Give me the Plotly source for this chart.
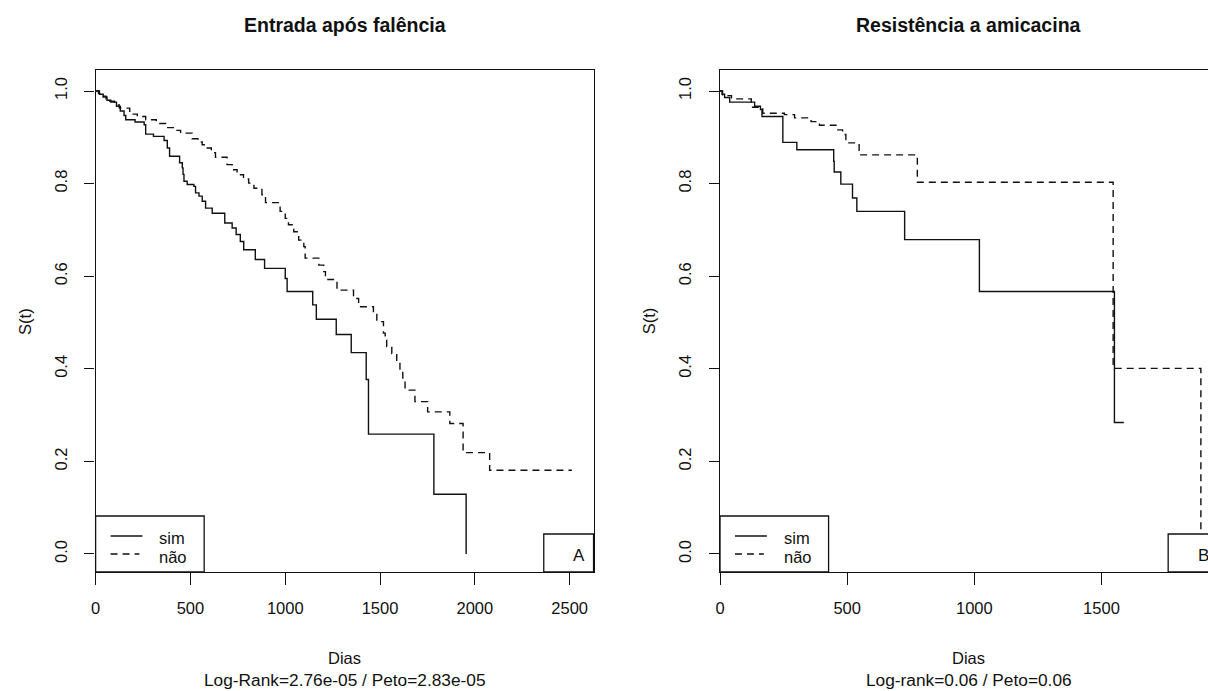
import plotly.graph_objects as go

W, H = 1208, 691

# ---------------- data ----------------
titles = ["Entrada após falência", "Resistência a amicacina"]
subtitles = ["Log-Rank=2.76e-05 / Peto=2.83e-05", "Log-rank=0.06 / Peto=0.06"]
panel_tags = ["A", "B"]
group_names = ["sim", "não"]
y_ticks = [0.0, 0.2, 0.4, 0.6, 0.8, 1.0]
y_ticktext = ["0.0", "0.2", "0.4", "0.6", "0.8", "1.0"]
x_ticks_left = [0, 500, 1000, 1500, 2000, 2500]
x_ticks_right = [0, 500, 1000, 1500]

# Panel A - "sim" (solid)
a_sim_t = [0, 20, 40, 60, 80, 110, 130, 150, 159, 208, 256, 264, 305, 361, 378, 390,
           443, 457, 461, 466, 483, 518, 527, 545, 562, 580, 615, 681, 720, 741, 763,
           781, 842, 891, 1000, 1010, 1145, 1164, 1269, 1348, 1427, 1439, 1784, 1954]
a_sim_s = [1.0, 0.993, 0.987, 0.980, 0.976, 0.967, 0.957, 0.947, 0.938, 0.933, 0.927,
           0.907, 0.902, 0.893, 0.877, 0.859, 0.845, 0.834, 0.820, 0.805, 0.798, 0.794,
           0.780, 0.773, 0.762, 0.747, 0.736, 0.715, 0.704, 0.690, 0.675, 0.657, 0.636,
           0.617, 0.595, 0.567, 0.538, 0.507, 0.474, 0.435, 0.377, 0.259, 0.129, 0.0]

# Panel A - "não" (dashed)
a_nao_t = [0, 15, 35, 55, 75, 100, 125, 180, 220, 264, 320, 369, 410, 448, 509, 540,
           562, 588, 610, 632, 693, 720, 746, 780, 807, 835, 877, 896, 973, 1000, 1017,
           1045, 1071, 1098, 1105, 1177, 1203, 1212, 1273, 1360, 1387, 1465, 1483, 1518,
           1527, 1535, 1562, 1588, 1605, 1620, 1632, 1684, 1751, 1868, 1938, 2078, 2512]
a_nao_s = [1.0, 0.995, 0.989, 0.983, 0.978, 0.970, 0.963, 0.950, 0.945, 0.938, 0.930,
           0.921, 0.915, 0.909, 0.897, 0.890, 0.884, 0.877, 0.867, 0.857, 0.841, 0.830,
           0.819, 0.810, 0.801, 0.790, 0.776, 0.759, 0.740, 0.725, 0.711, 0.696, 0.678,
           0.664, 0.639, 0.624, 0.610, 0.593, 0.570, 0.552, 0.534, 0.520, 0.502, 0.477,
           0.462, 0.448, 0.433, 0.415, 0.397, 0.376, 0.354, 0.329, 0.307, 0.282, 0.219,
           0.181, 0.181]

# Panel B - "sim" (solid)
b_sim_t = [0, 8, 18, 38, 136, 159, 165, 247, 302, 447, 449, 475, 521, 538, 726, 1020, 1551, 1588]
b_sim_s = [1.0, 0.993, 0.986, 0.976, 0.967, 0.960, 0.945, 0.889, 0.873, 0.848, 0.825,
           0.799, 0.769, 0.740, 0.679, 0.567, 0.284, 0.284]

# Panel B - "não" (dashed)
b_nao_t = [0, 10, 45, 123, 128, 168, 253, 293, 358, 391, 456, 482, 495, 547, 776, 1546, 1891]
b_nao_s = [1.0, 0.990, 0.983, 0.976, 0.965, 0.952, 0.949, 0.942, 0.934, 0.926, 0.916,
           0.906, 0.888, 0.862, 0.803, 0.401, 0.0]

# ---------------- styling helpers ----------------
FONT = "Liberation Sans, Arial, sans-serif"
INK = "#111111"
LW = 1.4
DASH = "7px,5px"


def px(x):
    return x / W


def py(y):
    return 1 - y / H


fig = go.Figure()

series = [
    (a_sim_t, a_sim_s, "solid", "x", "y", group_names[0]),
    (a_nao_t, a_nao_s, DASH, "x", "y", group_names[1]),
    (b_sim_t, b_sim_s, "solid", "x2", "y2", group_names[0]),
    (b_nao_t, b_nao_s, DASH, "x2", "y2", group_names[1]),
]
for t, s, dash, xa, ya, nm in series:
    fig.add_trace(go.Scatter(
        x=t, y=s, mode="lines", name=nm, showlegend=False,
        line=dict(shape="hv", color=INK, width=LW, dash=dash),
        xaxis=xa, yaxis=ya, hoverinfo="x+y",
    ))

ydom = [py(572), py(70)]
yrange = [-0.0389, 1.0454]

common_axis = dict(
    showgrid=False, zeroline=False, showline=True, linecolor=INK, linewidth=1.3,
    ticks="outside", tickcolor=INK, tickwidth=1.3,
    tickfont=dict(family=FONT, size=16.5, color=INK),
)

fig.update_layout(
    width=W, height=H,
    margin=dict(l=0, r=0, t=0, b=0),
    paper_bgcolor="white", plot_bgcolor="white",
    showlegend=False,
    xaxis=dict(domain=[px(91), px(591)], range=[0, 2626], tickvals=x_ticks_left,
               ticklen=12, mirror=True, anchor="y", ticklabelstandoff=9, **common_axis),
    yaxis=dict(domain=ydom, range=yrange, tickvals=y_ticks, ticktext=y_ticktext,
               tickangle=-90, ticklen=10, mirror=True, anchor="x",
               ticklabelstandoff=11, **common_axis),
    xaxis2=dict(domain=[px(718), 1.0], range=[0, 1919], tickvals=x_ticks_right,
                ticklen=12, mirror=True, anchor="y2", ticklabelstandoff=9, **common_axis),
    yaxis2=dict(domain=ydom, range=yrange, tickvals=y_ticks, ticktext=y_ticktext,
                tickangle=-90, ticklen=10, mirror=False, anchor="x2",
                ticklabelstandoff=11, **common_axis),
)

shapes = []
annotations = []

panels = [
    dict(x0=91, x1=591),
    dict(x0=718, x1=1218),
]
for i, p in enumerate(panels):
    cx = (p["x0"] + p["x1"]) / 2
    # title
    annotations.append(dict(text="<b>" + titles[i] + "</b>", x=px(cx), y=py(25),
                            xref="paper", yref="paper", showarrow=False,
                            xanchor="center", yanchor="middle",
                            font=dict(family=FONT, size=19.5, color=INK)))
    # x title and subtitle
    annotations.append(dict(text="Dias", x=px(cx), y=py(658), xref="paper", yref="paper",
                            showarrow=False, xanchor="center", yanchor="middle",
                            font=dict(family=FONT, size=16.5, color=INK)))
    annotations.append(dict(text=subtitles[i], x=px(cx), y=py(680), xref="paper",
                            yref="paper", showarrow=False, xanchor="center",
                            yanchor="middle", font=dict(family=FONT, size=17.3, color=INK)))
    # y title
    annotations.append(dict(text="S(t)", x=px(p["x0"] - 71), y=py(321), xref="paper",
                            yref="paper", showarrow=False, textangle=-90,
                            xanchor="center", yanchor="middle",
                            font=dict(family=FONT, size=16.5, color=INK)))
    # legend box
    lx0 = p["x0"]
    shapes.append(dict(type="rect", xref="paper", yref="paper", x0=px(lx0), x1=px(lx0 + 109),
                       y0=py(572), y1=py(516), fillcolor="white",
                       line=dict(color=INK, width=1.3), layer="above"))
    shapes.append(dict(type="line", xref="paper", yref="paper", x0=px(lx0 + 15), x1=px(lx0 + 47),
                       y0=py(536), y1=py(536), line=dict(color=INK, width=LW), layer="above"))
    shapes.append(dict(type="line", xref="paper", yref="paper", x0=px(lx0 + 15), x1=px(lx0 + 44),
                       y0=py(554), y1=py(554), line=dict(color=INK, width=LW, dash=DASH),
                       layer="above"))
    annotations.append(dict(text=group_names[0], x=px(lx0 + 62), y=py(538), xref="paper",
                            yref="paper", showarrow=False, xanchor="left", yanchor="middle",
                            font=dict(family=FONT, size=16.5, color=INK)))
    annotations.append(dict(text=group_names[1], x=px(lx0 + 62), y=py(557), xref="paper",
                            yref="paper", showarrow=False, xanchor="left", yanchor="middle",
                            font=dict(family=FONT, size=16.5, color=INK)))
    # panel tag box
    shapes.append(dict(type="rect", xref="paper", yref="paper", x0=px(p["x1"] - 50),
                       x1=px(p["x1"]), y0=py(572), y1=py(534), fillcolor="white",
                       line=dict(color=INK, width=1.3), layer="above"))
    annotations.append(dict(text=panel_tags[i], x=px(p["x1"] - 15), y=py(555), xref="paper",
                            yref="paper", showarrow=False, xanchor="center", yanchor="middle",
                            font=dict(family=FONT, size=17, color=INK)))

fig.update_layout(shapes=shapes, annotations=annotations)
fig.write_html("out.html")
